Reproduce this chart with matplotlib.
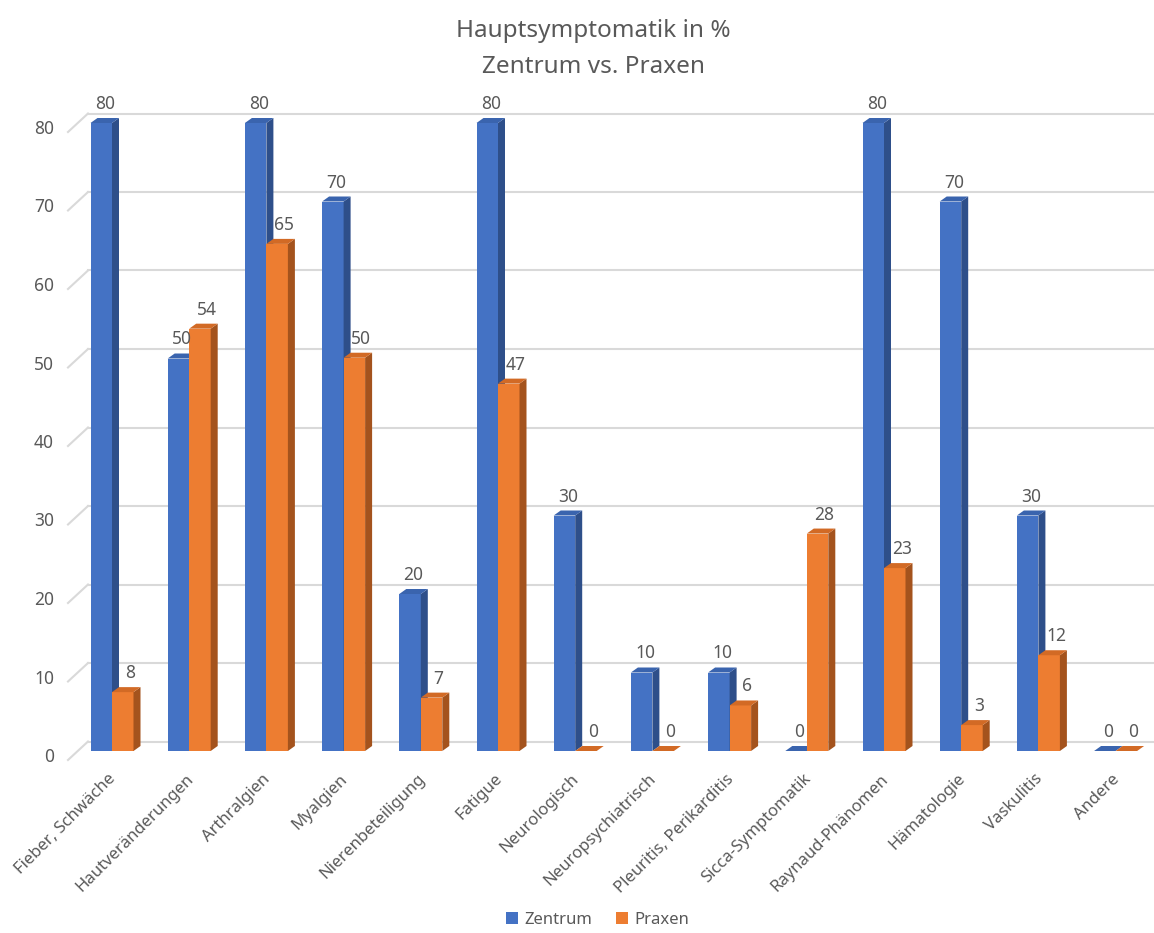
import matplotlib
matplotlib.use('Agg')
import matplotlib.pyplot as plt
from matplotlib.patches import Polygon, Rectangle, Patch
import matplotlib.transforms as mtransforms

categories = ['Fieber, Schwäche', 'Hautveränderungen', 'Arthralgien', 'Myalgien',
              'Nierenbeteiligung', 'Fatigue', 'Neurologisch', 'Neuropsychiatrisch',
              'Pleuritis, Perikarditis', 'Sicca-Symptomatik', 'Raynaud-Phänomen',
              'Hämatologie', 'Vaskulitis', 'Andere']
zentrum = [80, 50, 80, 70, 20, 80, 30, 10, 10, 0, 80, 70, 30, 0]
praxen = [7.5, 53.8, 64.6, 50.1, 6.8, 46.8, 0, 0, 5.8, 27.7, 23.3, 3.3, 12.2, 0]
yticks = [0, 10, 20, 30, 40, 50, 60, 70, 80]

W, H = 1154, 933
DPI = 100
TEXT = '#595959'
GRID = '#D9D9D9'
# front, side, top face colours per series
BLUE = ('#4472C4', '#2E4F8A', '#3A64AE')
ORANGE = ('#ED7D31', '#A4531D', '#D26A25')

plt.rcParams['font.family'] = ['Noto Sans', 'DejaVu Sans']

fig = plt.figure(figsize=(W / DPI, H / DPI), dpi=DPI)
ax = fig.add_axes([0, 0, 1, 1])
ax.set_axis_off()

# pixel geometry of the plot
x0_px, step_px = 112, 77.2      # first group centre, spacing
y0_px, unit_px = 751, 7.85      # baseline, pixels per percent
ax.set_xlim(-x0_px / step_px, (W - x0_px) / step_px)
ax.set_ylim((y0_px - H) / unit_px, y0_px / unit_px)

sx = 1.0 / step_px   # data per pixel, x
sy = 1.0 / unit_px   # data per pixel, y
bar_w = 21.5 * sx
dx, dy = 7 * sx, 5 * sy


def offset(xp=0, yp=0):
    return mtransforms.offset_copy(ax.transData, fig=fig, x=xp, y=yp, units='dots')


# back wall grid + left wall ticks
x_wall = (88 - x0_px) * sx
x_edge = (68 - x0_px) * sx
for v in yticks:
    ax.plot([x_wall, ax.get_xlim()[1]], [v, v], color=GRID, lw=1.5,
            transform=offset(0, 9.5), zorder=1)
    ax.plot([x_edge, x_wall], [v - 9 * sy, v + 9.5 * sy], color=GRID, lw=1.5, zorder=1)
    ax.text(x_edge - 14 * sx, v, str(v), ha='right', va='center', fontsize=12.5,
            color=TEXT, transform=offset(0, -6))


def bar3d(x, h, cols, z):
    front, side, top = cols
    ax.add_patch(Rectangle((x, 0), bar_w, h, facecolor=front, edgecolor='none', zorder=z))
    ax.add_patch(Polygon([(x + bar_w, 0), (x + bar_w + dx, dy), (x + bar_w + dx, h + dy),
                          (x + bar_w, h)], closed=True, facecolor=side,
                         edgecolor='none', zorder=z))
    ax.add_patch(Polygon([(x, h), (x + dx, h + dy), (x + bar_w + dx, h + dy),
                          (x + bar_w, h)], closed=True, facecolor=top,
                         edgecolor='none', zorder=z))


for i, (z_val, p_val) in enumerate(zip(zentrum, praxen)):
    bar3d(i - bar_w, z_val, BLUE, 3)
    bar3d(i, p_val, ORANGE, 4)
    ax.text(i - bar_w / 2 + dx / 2, z_val, f'{z_val:.0f}', ha='center', va='bottom',
            fontsize=12.5, color=TEXT, transform=offset(0, 10), zorder=6)
    ax.text(i + bar_w / 2 + dx, p_val, f'{p_val:.0f}', ha='center', va='bottom',
            fontsize=12.5, color=TEXT, transform=offset(0, 10), zorder=6)
    ax.text(i, 0, categories[i], ha='right', va='top', rotation=45,
            rotation_mode='anchor', fontsize=12, color=TEXT, transform=offset(-4, -20))

fig.text(0.514, 1 - 31 / H, 'Hauptsymptomatik in %', ha='center', va='center',
         fontsize=17.5, color=TEXT)
fig.text(0.514, 1 - 67 / H, 'Zentrum vs. Praxen', ha='center', va='center',
         fontsize=17.5, color=TEXT)

handles = [Patch(facecolor=BLUE[0], label='Zentrum'),
           Patch(facecolor=ORANGE[0], label='Praxen')]
fig.legend(handles=handles, loc='center', bbox_to_anchor=(0.518, 1 - 920 / H),
           ncol=2, frameon=False, fontsize=12, handlelength=0.7, handleheight=0.7,
           handletextpad=0.4, columnspacing=1.4, labelcolor=TEXT)

fig.savefig('out.png', dpi=DPI)
